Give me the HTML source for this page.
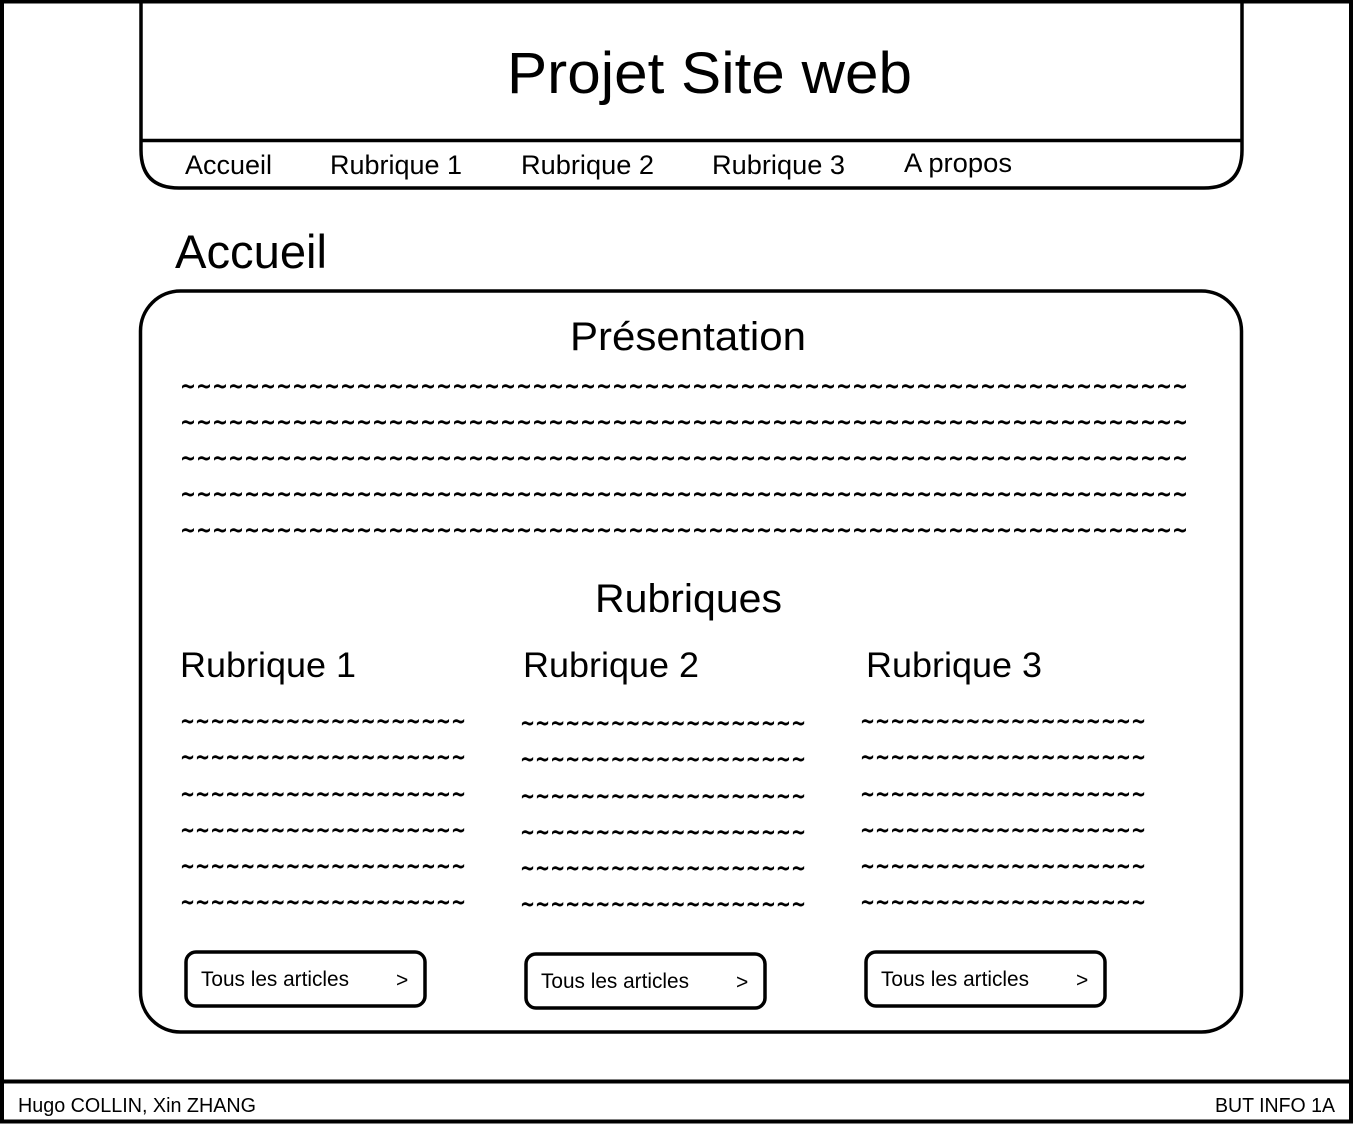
<!DOCTYPE html>
<html><head><meta charset="utf-8"><style>
html,body{margin:0;padding:0;background:#fff;}
svg{display:block;}
text{font-family:"Liberation Sans",sans-serif;fill:#000;}
.t text{font-family:"DejaVu Sans",sans-serif;}
</style></head><body>
<svg width="1353" height="1125" viewBox="0 0 1353 1125" xmlns="http://www.w3.org/2000/svg">
<rect x="2" y="1.5" width="1349" height="1120" fill="none" stroke="#000" stroke-width="4"/>
<line x1="2" y1="1081.5" x2="1351" y2="1081.5" stroke="#000" stroke-width="4"/>
<text x="18" y="1112" font-size="20" textLength="238" lengthAdjust="spacingAndGlyphs">Hugo COLLIN, Xin ZHANG</text>
<text x="1215" y="1112" font-size="20" textLength="120" lengthAdjust="spacingAndGlyphs">BUT INFO 1A</text>

<path d="M141 0 V150 Q141 188 179 188 H1204 Q1242 188 1242 150 V0" fill="none" stroke="#000" stroke-width="3.5"/>
<line x1="141" y1="140.5" x2="1242" y2="140.5" stroke="#000" stroke-width="3.5"/>
<text x="507" y="93" font-size="58" textLength="405" lengthAdjust="spacingAndGlyphs">Projet Site web</text>
<g font-size="27">
<text x="185" y="174" textLength="87" lengthAdjust="spacingAndGlyphs">Accueil</text>
<text x="330" y="174" textLength="132" lengthAdjust="spacingAndGlyphs">Rubrique 1</text>
<text x="521" y="174" textLength="133" lengthAdjust="spacingAndGlyphs">Rubrique 2</text>
<text x="712" y="174" textLength="133" lengthAdjust="spacingAndGlyphs">Rubrique 3</text>
<text x="904" y="172" textLength="108" lengthAdjust="spacingAndGlyphs">A propos</text>
</g>

<text x="175" y="268" font-size="47" textLength="152" lengthAdjust="spacingAndGlyphs">Accueil</text>

<rect x="140.5" y="291" width="1101" height="741" rx="40" fill="none" stroke="#000" stroke-width="3.5"/>
<text x="570" y="350" font-size="40" textLength="236" lengthAdjust="spacingAndGlyphs">Présentation</text>
<g class="t" font-size="24" font-weight="bold">
<text x="180" y="394" textLength="1008" lengthAdjust="spacingAndGlyphs">~~~~~~~~~~~~~~~~~~~~~~~~~~~~~~~~~~~~~~~~~~~~~~~~~~~~~~~~~~~~~~~</text>
<text x="180" y="430" textLength="1008" lengthAdjust="spacingAndGlyphs">~~~~~~~~~~~~~~~~~~~~~~~~~~~~~~~~~~~~~~~~~~~~~~~~~~~~~~~~~~~~~~~</text>
<text x="180" y="466" textLength="1008" lengthAdjust="spacingAndGlyphs">~~~~~~~~~~~~~~~~~~~~~~~~~~~~~~~~~~~~~~~~~~~~~~~~~~~~~~~~~~~~~~~</text>
<text x="180" y="502" textLength="1008" lengthAdjust="spacingAndGlyphs">~~~~~~~~~~~~~~~~~~~~~~~~~~~~~~~~~~~~~~~~~~~~~~~~~~~~~~~~~~~~~~~</text>
<text x="180" y="538" textLength="1008" lengthAdjust="spacingAndGlyphs">~~~~~~~~~~~~~~~~~~~~~~~~~~~~~~~~~~~~~~~~~~~~~~~~~~~~~~~~~~~~~~~</text>
</g>
<text x="595" y="612" font-size="40" textLength="187" lengthAdjust="spacingAndGlyphs">Rubriques</text>
<g font-size="35">
<text x="180" y="677" textLength="176" lengthAdjust="spacingAndGlyphs">Rubrique 1</text>
<text x="523" y="677" textLength="176" lengthAdjust="spacingAndGlyphs">Rubrique 2</text>
<text x="866" y="677" textLength="176" lengthAdjust="spacingAndGlyphs">Rubrique 3</text>
</g>
<g class="t" font-size="24" font-weight="bold">
<text x="180" y="729" textLength="286" lengthAdjust="spacingAndGlyphs">~~~~~~~~~~~~~~~~~~~</text>
<text x="180" y="765" textLength="286" lengthAdjust="spacingAndGlyphs">~~~~~~~~~~~~~~~~~~~</text>
<text x="180" y="802" textLength="286" lengthAdjust="spacingAndGlyphs">~~~~~~~~~~~~~~~~~~~</text>
<text x="180" y="838" textLength="286" lengthAdjust="spacingAndGlyphs">~~~~~~~~~~~~~~~~~~~</text>
<text x="180" y="874" textLength="286" lengthAdjust="spacingAndGlyphs">~~~~~~~~~~~~~~~~~~~</text>
<text x="180" y="910" textLength="286" lengthAdjust="spacingAndGlyphs">~~~~~~~~~~~~~~~~~~~</text>
<text x="520" y="731" textLength="286" lengthAdjust="spacingAndGlyphs">~~~~~~~~~~~~~~~~~~~</text>
<text x="520" y="767" textLength="286" lengthAdjust="spacingAndGlyphs">~~~~~~~~~~~~~~~~~~~</text>
<text x="520" y="804" textLength="286" lengthAdjust="spacingAndGlyphs">~~~~~~~~~~~~~~~~~~~</text>
<text x="520" y="840" textLength="286" lengthAdjust="spacingAndGlyphs">~~~~~~~~~~~~~~~~~~~</text>
<text x="520" y="876" textLength="286" lengthAdjust="spacingAndGlyphs">~~~~~~~~~~~~~~~~~~~</text>
<text x="520" y="912" textLength="286" lengthAdjust="spacingAndGlyphs">~~~~~~~~~~~~~~~~~~~</text>
<text x="860" y="729" textLength="286" lengthAdjust="spacingAndGlyphs">~~~~~~~~~~~~~~~~~~~</text>
<text x="860" y="765" textLength="286" lengthAdjust="spacingAndGlyphs">~~~~~~~~~~~~~~~~~~~</text>
<text x="860" y="802" textLength="286" lengthAdjust="spacingAndGlyphs">~~~~~~~~~~~~~~~~~~~</text>
<text x="860" y="838" textLength="286" lengthAdjust="spacingAndGlyphs">~~~~~~~~~~~~~~~~~~~</text>
<text x="860" y="874" textLength="286" lengthAdjust="spacingAndGlyphs">~~~~~~~~~~~~~~~~~~~</text>
<text x="860" y="910" textLength="286" lengthAdjust="spacingAndGlyphs">~~~~~~~~~~~~~~~~~~~</text>
</g>

<g fill="none" stroke="#000" stroke-width="3.5">
<rect x="186" y="952" width="239" height="54" rx="10"/>
<rect x="526" y="954" width="239" height="54" rx="10"/>
<rect x="866" y="952" width="239" height="54" rx="10"/>
</g>
<g font-size="21">
<text x="201" y="986" textLength="148" lengthAdjust="spacingAndGlyphs">Tous les articles</text>
<text x="396" y="987">&gt;</text>
<text x="541" y="988" textLength="148" lengthAdjust="spacingAndGlyphs">Tous les articles</text>
<text x="736" y="989">&gt;</text>
<text x="881" y="986" textLength="148" lengthAdjust="spacingAndGlyphs">Tous les articles</text>
<text x="1076" y="987">&gt;</text>
</g>
</svg>
</body></html>
